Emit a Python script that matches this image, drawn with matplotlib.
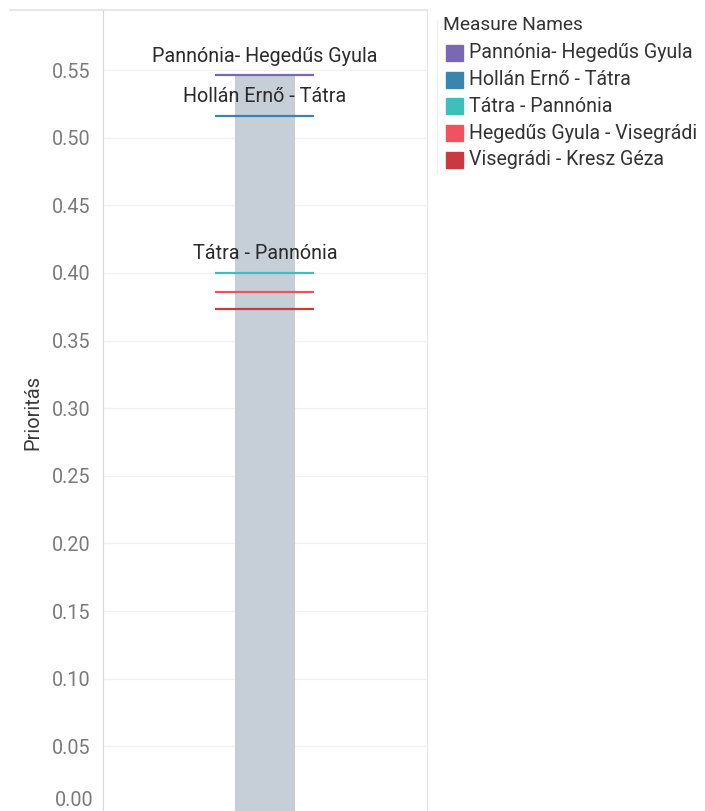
import matplotlib.pyplot as plt
from matplotlib.lines import Line2D
from matplotlib.patches import Rectangle
import matplotlib.transforms as mtransforms

plt.rcParams['font.family'] = ['Roboto', 'DejaVu Sans']

# data
measure_names = ["Pannónia- Hegedűs Gyula", "Hollán Ernő - Tátra", "Tátra - Pannónia",
                 "Hegedűs Gyula - Visegrádi", "Visegrádi - Kresz Géza"]
priorities = [0.546, 0.516, 0.400, 0.386, 0.373]
labelled = [True, True, True, False, False]
colors = ["#7b68b2", "#3a84ad", "#3ebfbb", "#ef5360", "#c9393f"]
bar_value = 0.546
yticks = [0.00, 0.05, 0.10, 0.15, 0.20, 0.25, 0.30, 0.35, 0.40, 0.45, 0.50, 0.55]

W, H = 705, 811
fig = plt.figure(figsize=(W / 100, H / 100), dpi=100)

def fx(px):
    return px / W

def fy(py):
    return 1 - py / H

# axes spans x 103..427, y 10..814 px (bottom slightly cut like the screenshot)
ax = fig.add_axes([fx(103), fy(814), fx(427) - fx(103), fy(10) - fy(814)])
ax.set_xlim(-0.5, 0.5)
ax.set_ylim(0, 0.5944)

ax.bar(0, bar_value, width=0.188, color="#c6ced8", zorder=1)

for name, val, lab, c in zip(measure_names, priorities, labelled, colors):
    ax.plot([-0.154, 0.151], [val, val], color=c, lw=1.6, solid_capstyle="butt", zorder=3)
    if lab:
        ax.text(0, val + 0.0072, name, ha="center", va="bottom", fontsize=14.2, color="#2b2b2b", zorder=4)

ax.set_yticks(yticks)
# the bottom label is nudged up inside the pane, so draw it separately
ax.set_yticklabels([""] + [f"{t:.2f}" for t in yticks[1:]])
ax.tick_params(axis="y", length=0, pad=9, labelsize=14.2, labelcolor="#7a7a7a")
ax.text(0, yticks[0], f"{yticks[0]:.2f}", transform=mtransforms.offset_copy(
    ax.get_yaxis_transform(), fig=fig, x=-9, y=14, units="dots"),
    ha="right", va="center", fontsize=14.2, color="#7a7a7a")
ax.set_xticks([])
ax.grid(axis="y", color="#f1f1f1", lw=1, zorder=0)
ax.set_axisbelow(True)

for s in ["top", "bottom"]:
    ax.spines[s].set_visible(False)
ax.spines["left"].set_color("#d8d8d8")
ax.spines["right"].set_color("#e6e6e6")

ax.set_ylabel("Prioritás", fontsize=14.4, color="#3a3a3a", labelpad=7)

# top frame line reaching to the left edge
fig.add_artist(Line2D([fx(10), fx(427)], [fy(10), fy(10)], color="#e2e2e2", lw=1.2))
# faint legend edge
fig.add_artist(Line2D([fx(437), fx(437)], [fy(20), fy(173)], color="#f0f0f0", lw=1))

# legend
fig.text(fx(443), fy(25), "Measure Names", fontsize=13.8, color="#333333", va="center", ha="left")
for i, (name, c) in enumerate(zip(measure_names, colors)):
    yc = 53 + i * 26.7
    fig.add_artist(Rectangle((fx(446), fy(yc + 8)), fx(17), fy(0) - fy(16), color=c))
    fig.text(fx(469), fy(yc), name, fontsize=14.1, color="#333333", va="center", ha="left")

fig.savefig("out.png", dpi=100)
